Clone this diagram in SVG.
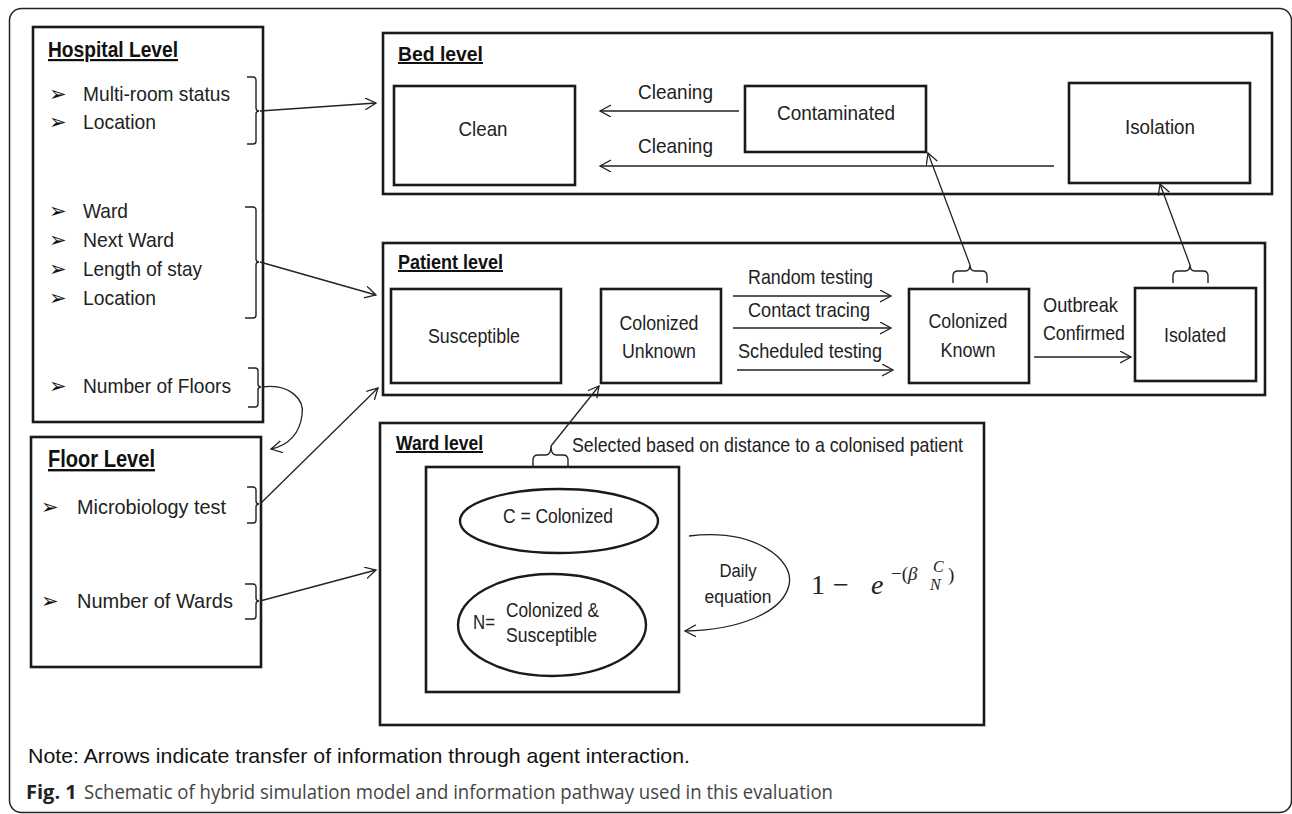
<svg xmlns="http://www.w3.org/2000/svg" width="1292" height="814" viewBox="0 0 1292 814">
<style>
.box{fill:#fff;stroke:#1a1a1a;stroke-width:2.6}
.frame{fill:#fff;stroke:#222;stroke-width:1.5}
.t{font-family:"Liberation Sans",Arial,sans-serif;font-size:21px;fill:#222}
.s{font-size:18px}
.ttl{font-family:"Liberation Sans",Arial,sans-serif;font-weight:bold;fill:#111;text-decoration:underline}
.m{text-anchor:middle}
.b{font-family:"DejaVu Sans",sans-serif;font-size:21px;fill:#111}
.br{fill:none;stroke:#222;stroke-width:1.4}
.c{fill:none;stroke:#222;stroke-width:1.3}
.ell{fill:#fff;stroke:#1a1a1a;stroke-width:2.4}
.math{font-family:"Liberation Serif","DejaVu Serif",serif;fill:#222}
.note{font-family:"Liberation Sans",Arial,sans-serif;font-size:21px;fill:#111}
.cap{font-family:"Open Sans","Noto Sans",sans-serif;font-size:20px;fill:#444}
</style>
<defs>
<marker id="ah" markerUnits="userSpaceOnUse" markerWidth="14" markerHeight="14" refX="11" refY="6" orient="auto">
<path d="M0,0 L11,6 L0,12" fill="none" stroke="#222" stroke-width="1.3"/>
</marker>
</defs>
<rect class="frame" x="9.5" y="8.5" width="1282" height="804" rx="12"/>

<g id="hospital">
<rect class="box" x="33" y="27" width="230" height="395"/>
<text class="ttl" x="48" y="57" font-size="22" textLength="130" lengthAdjust="spacingAndGlyphs">Hospital Level</text>
<text class="b" x="49" y="101">➢</text>
<text class="t" x="83" y="101" textLength="147" lengthAdjust="spacingAndGlyphs">Multi-room status</text>
<text class="b" x="49" y="129">➢</text>
<text class="t" x="83" y="129" textLength="73" lengthAdjust="spacingAndGlyphs">Location</text>
<path class="br" d="M247,77 L253,77 Q256,77 256,80 L256,108 Q256,111 259,111 Q256,111 256,114 L256,141 Q256,144 253,144 L247,144"/>
<text class="b" x="49" y="218">➢</text>
<text class="t" x="83" y="218" textLength="45" lengthAdjust="spacingAndGlyphs">Ward</text>
<text class="b" x="49" y="247">➢</text>
<text class="t" x="83" y="247" textLength="91" lengthAdjust="spacingAndGlyphs">Next Ward</text>
<text class="b" x="49" y="276">➢</text>
<text class="t" x="83" y="276" textLength="119" lengthAdjust="spacingAndGlyphs">Length of stay</text>
<text class="b" x="49" y="305">➢</text>
<text class="t" x="83" y="305" textLength="73" lengthAdjust="spacingAndGlyphs">Location</text>
<path class="br" d="M245,207 L253,207 Q256,207 256,210 L256,259 Q256,262 259,262 Q256,262 256,265 L256,315 Q256,318 253,318 L245,318"/>
<text class="b" x="49" y="393">➢</text>
<text class="t" x="83" y="393" textLength="148" lengthAdjust="spacingAndGlyphs">Number of Floors</text>
<path class="br" d="M248,368 L255,368 Q258,368 258,371 L258,384 Q258,387 261,387 Q258,387 258,390 L258,404 Q258,407 255,407 L248,407"/>
</g>

<g id="floor">
<rect class="box" x="31" y="437" width="230" height="230"/>
<text class="ttl" x="48" y="467" font-size="24" textLength="107" lengthAdjust="spacingAndGlyphs">Floor Level</text>
<text class="b" x="41" y="514">➢</text>
<text class="t" x="77" y="514" textLength="149" lengthAdjust="spacingAndGlyphs">Microbiology test</text>
<path class="br" d="M247,487 L253,487 Q256,487 256,490 L256,501 Q256,504 259,504 Q256,504 256,507 L256,520 Q256,523 253,523 L247,523"/>
<text class="b" x="41" y="608">➢</text>
<text class="t" x="77" y="608" textLength="156" lengthAdjust="spacingAndGlyphs">Number of Wards</text>
<path class="br" d="M245,584 L253,584 Q256,584 256,587 L256,598 Q256,601 259,601 Q256,601 256,604 L256,616 Q256,619 253,619 L245,619"/>
</g>

<g id="bed-level">
<rect class="box" x="383" y="33" width="889" height="161"/>
<text class="ttl" x="398" y="61" font-size="20" textLength="85" lengthAdjust="spacingAndGlyphs">Bed level</text>
</g>
<g id="clean">
<rect class="box" x="394" y="86" width="181" height="99"/>
<text class="t m" x="483" y="136" textLength="49" lengthAdjust="spacingAndGlyphs">Clean</text>
</g>
<g id="contaminated">
<rect class="box" x="745" y="86" width="181" height="66"/>
<text class="t m" x="836" y="120" textLength="118" lengthAdjust="spacingAndGlyphs">Contaminated</text>
</g>
<g id="isolation">
<rect class="box" x="1069" y="83" width="181" height="100"/>
<text class="t m" x="1160" y="134" textLength="70" lengthAdjust="spacingAndGlyphs">Isolation</text>
</g>

<g id="patient-level">
<rect class="box" x="383" y="243" width="882" height="152"/>
<text class="ttl" x="398" y="269" font-size="20" textLength="105" lengthAdjust="spacingAndGlyphs">Patient level</text>
</g>
<g id="susceptible">
<rect class="box" x="391" y="289" width="170" height="94"/>
<text class="t m" x="474" y="343" textLength="92" lengthAdjust="spacingAndGlyphs">Susceptible</text>
</g>
<g id="colonized-unknown">
<rect class="box" x="601" y="289" width="120" height="94"/>
<text class="t m" x="659" y="330" textLength="79" lengthAdjust="spacingAndGlyphs">Colonized</text>
<text class="t m" x="659" y="358" textLength="74" lengthAdjust="spacingAndGlyphs">Unknown</text>
</g>
<g id="colonized-known">
<rect class="box" x="909" y="289" width="120" height="94"/>
<text class="t m" x="968" y="328" textLength="79" lengthAdjust="spacingAndGlyphs">Colonized</text>
<text class="t m" x="968" y="357" textLength="55" lengthAdjust="spacingAndGlyphs">Known</text>
<path class="br" d="M953,283 L953,276 Q953,271 958,271 L965,271 Q970,271 970,265 Q970,271 975,271 L982,271 Q987,271 987,276 L987,283"/>
</g>
<g id="isolated">
<rect class="box" x="1135" y="288" width="121" height="93"/>
<text class="t m" x="1195" y="342" textLength="62" lengthAdjust="spacingAndGlyphs">Isolated</text>
<path class="br" d="M1173,283 L1173,276 Q1173,271 1178,271 L1185,271 Q1190,271 1190,265 Q1190,271 1195,271 L1203,271 Q1208,271 1208,276 L1208,283"/>
</g>

<g id="ward-level">
<rect class="box" x="380" y="423" width="604" height="302"/>
<text class="ttl" x="396" y="450" font-size="20" textLength="87" lengthAdjust="spacingAndGlyphs">Ward level</text>
<text class="t" x="572" y="452" textLength="391" lengthAdjust="spacingAndGlyphs">Selected based on distance to a colonised patient</text>
</g>
<g id="ward-population">
<rect class="box" x="426" y="467" width="253" height="225"/>
<path class="br" d="M533,467 L533,460 Q533,455 538,455 L546,455 Q551,455 551,446 Q551,455 556,455 L563,455 Q568,455 568,460 L568,467"/>
<ellipse class="ell" cx="559" cy="521" rx="99" ry="32"/>
<text class="t m" x="558" y="523" textLength="110" lengthAdjust="spacingAndGlyphs">C = Colonized</text>
<ellipse class="ell" cx="552" cy="625" rx="94" ry="51"/>
<text class="t" x="473" y="629" textLength="22" lengthAdjust="spacingAndGlyphs">N=</text>
<text class="t" x="506" y="617" textLength="93" lengthAdjust="spacingAndGlyphs">Colonized &amp;</text>
<text class="t" x="506" y="642" textLength="91" lengthAdjust="spacingAndGlyphs">Susceptible</text>
</g>
<g id="daily-equation">
<text class="t s m" x="738" y="577" textLength="37" lengthAdjust="spacingAndGlyphs">Daily</text>
<text class="t s m" x="738" y="603" textLength="67" lengthAdjust="spacingAndGlyphs">equation</text>
<text class="math" x="811" y="594" font-size="28">1</text>
<text class="math" x="833" y="594" font-size="28">−</text>
<text class="math" x="871" y="594" font-size="28" font-style="italic">e</text>
<text class="math" x="891" y="580" font-size="19">−(<tspan font-style="italic">β</tspan></text>
<text class="math" x="933" y="572" font-size="16" font-style="italic">C</text>
<text class="math" x="930" y="590" font-size="16" font-style="italic">N</text>
<text class="math" x="948" y="581" font-size="19">)</text>
</g>

<g id="connectors">
<line class="c" x1="260" y1="111" x2="376" y2="103" marker-end="url(#ah)"/>
<line class="c" x1="260" y1="262" x2="376" y2="295" marker-end="url(#ah)"/>
<path class="c" d="M262,387 C290,383 305,400 302,415 C300,432 290,445 271,449" marker-end="url(#ah)"/>
<line class="c" x1="260" y1="504" x2="378" y2="388" marker-end="url(#ah)"/>
<line class="c" x1="260" y1="601" x2="376" y2="570" marker-end="url(#ah)"/>
<line class="c" x1="739" y1="111" x2="600" y2="111" marker-end="url(#ah)"/>
<text class="t" x="638" y="99" textLength="75" lengthAdjust="spacingAndGlyphs">Cleaning</text>
<line class="c" x1="1054" y1="166" x2="600" y2="166" marker-end="url(#ah)"/>
<text class="t" x="638" y="153" textLength="75" lengthAdjust="spacingAndGlyphs">Cleaning</text>
<line class="c" x1="970" y1="265" x2="928" y2="153" marker-end="url(#ah)"/>
<line class="c" x1="1190" y1="265" x2="1160" y2="184" marker-end="url(#ah)"/>
<line class="c" x1="733" y1="296" x2="891" y2="296" marker-end="url(#ah)"/>
<text class="t" x="748" y="284" textLength="125" lengthAdjust="spacingAndGlyphs">Random testing</text>
<line class="c" x1="733" y1="328" x2="891" y2="328" marker-end="url(#ah)"/>
<text class="t" x="748" y="317" textLength="122" lengthAdjust="spacingAndGlyphs">Contact tracing</text>
<line class="c" x1="737" y1="370" x2="893" y2="370" marker-end="url(#ah)"/>
<text class="t" x="738" y="358" textLength="144" lengthAdjust="spacingAndGlyphs">Scheduled testing</text>
<line class="c" x1="1034" y1="357" x2="1131" y2="357" marker-end="url(#ah)"/>
<text class="t" x="1043" y="312" textLength="75" lengthAdjust="spacingAndGlyphs">Outbreak</text>
<text class="t" x="1043" y="340" textLength="82" lengthAdjust="spacingAndGlyphs">Confirmed</text>
<line class="c" x1="551" y1="446" x2="599" y2="386" marker-end="url(#ah)"/>
<path class="c" d="M689,536 C755,528 795,560 789,585 C783,612 740,630 685,631" marker-end="url(#ah)"/>
</g>

<text class="note" x="28" y="763" textLength="662" lengthAdjust="spacingAndGlyphs">Note: Arrows indicate transfer of information through agent interaction.</text>
<text class="cap" x="26" y="799"><tspan font-weight="bold" fill="#222">Fig. 1</tspan></text>
<text class="cap" x="84" y="799" textLength="749" lengthAdjust="spacingAndGlyphs">Schematic of hybrid simulation model and information pathway used in this evaluation</text>
</svg>
